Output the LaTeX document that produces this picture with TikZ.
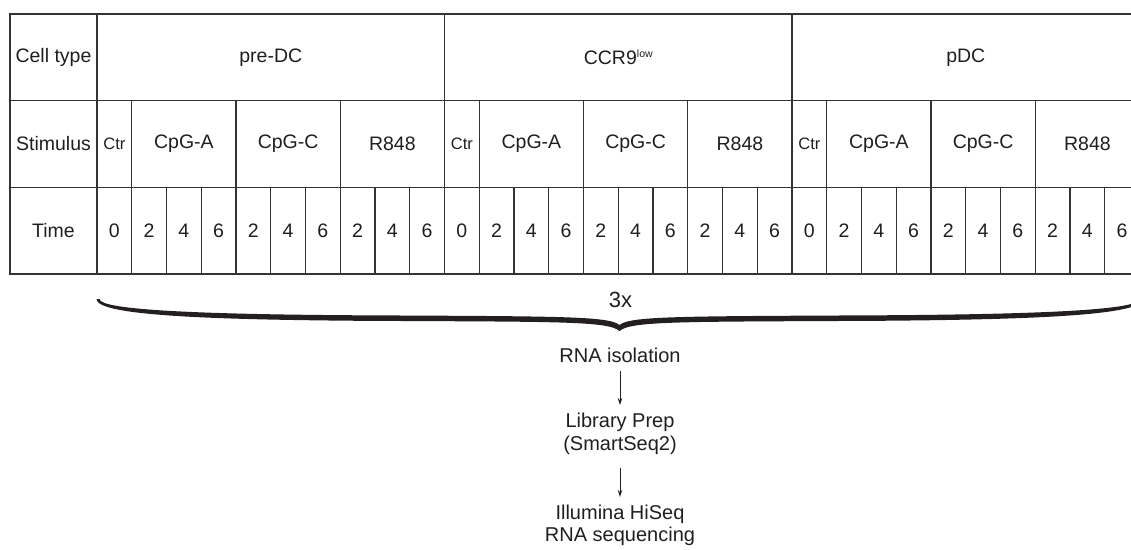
\documentclass[tikz,border=0pt]{standalone}
\usepackage{fontspec}
\setmainfont{Liberation Sans}
\usetikzlibrary{arrows.meta}
\definecolor{gridline}{HTML}{333333}
\definecolor{ink}{HTML}{1F1F1F}
\definecolor{bracecol}{HTML}{231F20}
\newcommand{\tabfont}{\fontsize{19.5}{23}\selectfont}
\newcommand{\ctrfont}{\fontsize{16.5}{19}\selectfont}
\newcommand{\flowfont}{\fontsize{20}{23}\selectfont}
\begin{document}
\begin{tikzpicture}[x=1pt,y=-1pt,
  cell/.style={draw=gridline, line width=1.3pt, inner sep=0pt, outer sep=0pt,
               text=ink, font=\tabfont, anchor=center},
  flowtext/.style={inner sep=0pt, outer sep=0pt, text=ink, font=\flowfont,
                   anchor=base, text height=15pt, text depth=4pt},
  flowarrow/.style={draw=ink, line width=1pt,
                    -{Stealth[length=7pt,width=4.5pt]}}]
\useasboundingbox (0,0) rectangle (1131,549);
\clip (0,0) rectangle (1131,549);

% row labels
\node[cell, minimum width=87pt, minimum height=86.5pt] (hcell) at (53.5,57.25) {Cell type};
\node[cell, minimum width=87pt, minimum height=87pt] (hstim) at (53.5,144) {Stimulus};
\node[cell, minimum width=87pt, minimum height=86.5pt] (htime) at (53.5,230.75) {Time};

% three cell types, each: control + three stimuli x three time points
\foreach \g/\gname in {0/pre-DC, 1/{CCR9\raisebox{7pt}{\fontsize{10.5}{12}\selectfont low}}, 2/pDC} {
  \pgfmathsetmacro{\gx}{97+\g*347.5}
  \node[cell, minimum width=347.5pt, minimum height=86.5pt] (type\g) at (\gx+173.75,57.25) {\gname};
  \node[cell, minimum width=34.75pt, minimum height=87pt, font=\ctrfont] (ctr\g) at (\gx+17.375,144) {Ctr};
  \node[cell, minimum width=34.75pt, minimum height=86.5pt] (t\g-0) at (\gx+17.375,230.75) {0};
  \foreach \s/\sname in {0/CpG-A, 1/CpG-C, 2/R848} {
    \pgfmathsetmacro{\sx}{\gx+34.75+\s*104.25}
    \node[cell, minimum width=104.25pt, minimum height=87pt] (stim\g-\s) at (\sx+52.125,144) {\sname};
    \foreach \k/\h in {0/2, 1/4, 2/6} {
      \node[cell, minimum width=34.75pt, minimum height=86.5pt] (t\g-\s-\k) at (\sx+17.375+\k*34.75,230.75) {\h};
    }
  }
}

% replicate brace
\fill[bracecol]
  (96.5,299) .. controls (96.5,315) and (200,319.5) .. (360,320.8)
  .. controls (560,321.8) and (608,321) .. (619.5,331)
  .. controls (631,321) and (679,321.8) .. (879,320.8)
  .. controls (1039,319.5) and (1142.5,315) .. (1142.5,299)
  -- (1139.5,299)
  .. controls (1139.5,310) and (1039,314.3) .. (879,315.3)
  .. controls (679,316.3) and (630,316) .. (619.5,325)
  .. controls (609,316) and (560,316.3) .. (360,315.3)
  .. controls (200,314.3) and (99.5,310) .. (99.5,299) -- cycle;
\node[text=ink, font=\fontsize{22}{24}\selectfont, anchor=base, inner sep=0pt] (rep) at (620.5,307) {3x};

% processing steps
\node[flowtext] (iso) at (620,362) {RNA isolation};
\node[flowtext] (lib1) at (620,427) {Library Prep};
\node[flowtext] (lib2) at (620,450) {(SmartSeq2)};
\node[flowtext] (seq1) at (620,519) {Illumina HiSeq};
\node[flowtext] (seq2) at (620,541) {RNA sequencing};

\draw[flowarrow, shorten <=5pt, shorten >=7pt] (iso) -- (lib1);
\draw[flowarrow, shorten <=14pt, shorten >=7pt] (lib2) -- (seq1);
\end{tikzpicture}
\end{document}
